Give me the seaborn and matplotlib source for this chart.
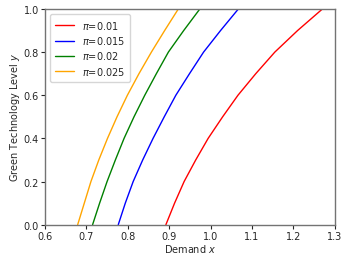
import pandas as pd
import matplotlib
matplotlib.use("Agg")
import matplotlib.pyplot as plt
import seaborn as sns

levels = [0.0, 0.1, 0.2, 0.3, 0.4, 0.5, 0.6, 0.7, 0.8, 0.9, 1.0]

# demand x for each pi value
demand_001 = [0.892, 0.913, 0.936, 0.964, 0.994, 1.029, 1.066, 1.109, 1.155, 1.210, 1.270]
demand_0015 = [0.777, 0.794, 0.813, 0.836, 0.861, 0.888, 0.916, 0.949, 0.983, 1.024, 1.067]
demand_002 = [0.715, 0.732, 0.750, 0.770, 0.791, 0.815, 0.841, 0.869, 0.898, 0.935, 0.974]
demand_0025 = [0.679, 0.695, 0.711, 0.730, 0.751, 0.774, 0.799, 0.827, 0.857, 0.889, 0.922]

labels = [r"$\pi$=0.01", r"$\pi$=0.015", r"$\pi$=0.02", r"$\pi$=0.025"]
colors = ["red", "blue", "green", "orange"]

rows = []
for lab, xs in zip(labels, [demand_001, demand_0015, demand_002, demand_0025]):
    for xv, yv in zip(xs, levels):
        rows.append({"x": xv, "y": yv, "pi": lab})
df = pd.DataFrame(rows)

sns.set_style("ticks")
plt.rcParams["font.family"] = ["DejaVu Sans"]

fig = plt.figure(figsize=(3.54, 2.55), dpi=100)
ax = fig.add_axes([0.127, 0.115, 0.819, 0.846])

sns.lineplot(data=df, x="x", y="y", hue="pi", palette=colors, sort=False,
             estimator=None, linewidth=1.0, ax=ax)

ax.set_xlim(0.6, 1.3)
ax.set_ylim(0.0, 1.0)
ax.set_xticks([0.6, 0.7, 0.8, 0.9, 1.0, 1.1, 1.2, 1.3])
ax.set_yticks([0.0, 0.2, 0.4, 0.6, 0.8, 1.0])
ax.set_xlabel("Demand $x$", fontsize=7, color="0.15", labelpad=1)
ax.set_ylabel("Green Technology Level $y$", fontsize=7, color="0.15", labelpad=1)
ax.tick_params(labelsize=7, colors="0.15", length=3, width=0.8, pad=1.5)
for s in ax.spines.values():
    s.set_color("0.45")
    s.set_linewidth(1.0)
    s.set_visible(True)

leg = ax.legend(loc="upper left", fontsize=7, frameon=True, handlelength=2.0,
                borderpad=0.5, labelspacing=0.35)
leg.get_frame().set_edgecolor("0.8")

fig.savefig("out.png", dpi=100)
